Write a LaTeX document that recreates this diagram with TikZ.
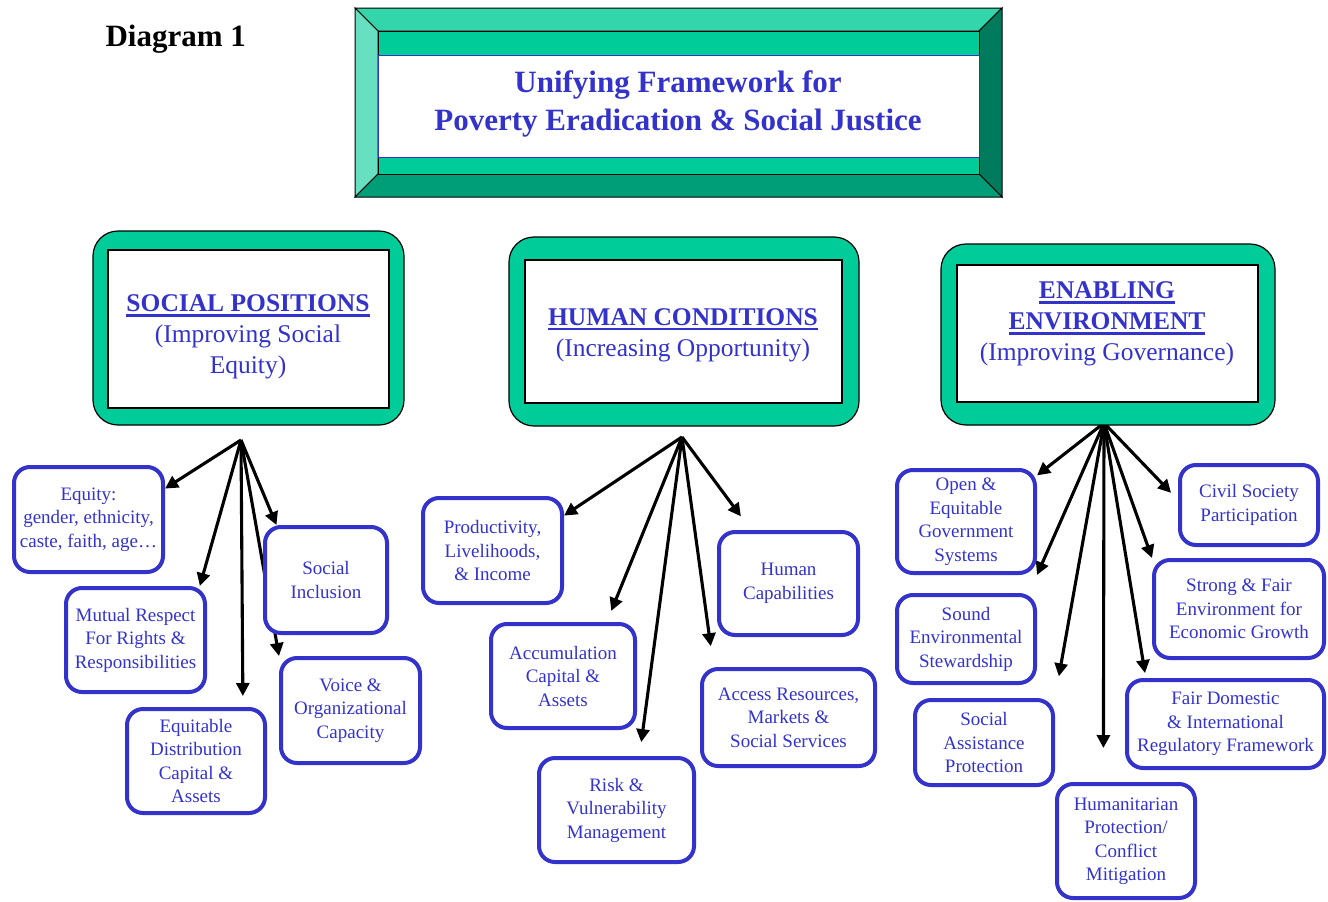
\documentclass[tikz,border=0pt]{standalone}
\usepackage{fontspec}
\setmainfont{Liberation Serif}
\usetikzlibrary{arrows.meta,backgrounds}

\definecolor{pptblue}{HTML}{3333CC}
\definecolor{pptgreen}{HTML}{00CC99}
\definecolor{beveltop}{HTML}{33D6AA}
\definecolor{bevelleft}{HTML}{66E0C0}
\definecolor{bevelright}{HTML}{007A5C}
\definecolor{bevelbottom}{HTML}{009E78}

\newcommand\titlefont{\fontsize{31}{38}\selectfont\bfseries}
\newcommand\headfont{\fontsize{25.5}{31}\selectfont}
\newcommand\leaffont{\fontsize{19}{23.5}\selectfont}
\newcommand\uhead[1]{\setbox0\hbox{\bfseries #1}\rlap{\rule[-5pt]{\wd0}{2.4pt}}\box0}

\begin{document}
\begin{tikzpicture}[x=1pt,y=-1pt]
    \tikzset{
        frame/.style={draw=black,line width=1.2pt,fill=pptgreen,rounded corners=25pt},
        pane/.style={draw=black,line width=1.2pt,fill=white},
        head/.style={text=pptblue,align=center,font=\headfont},
        leaf/.style={draw=pptblue,line width=4pt,rounded corners=16pt,fill=white,
            text=pptblue,align=center,font=\leaffont,inner sep=0pt},
        link/.style={line width=3.1pt,-{Triangle[length=13pt,width=13pt]}},
        bevel/.style={draw=black,line width=1pt}
    }
    \useasboundingbox (0,0) rectangle (1328,902);

    \node[anchor=base west,font=\titlefont] (diag) at (102,46) {Diagram 1};

    % title frame
    \filldraw[bevel,fill=beveltop] (355,8) -- (1002,8) -- (979,31) -- (378,31) -- cycle;
    \filldraw[bevel,fill=bevelleft] (355,8) -- (378,31) -- (378,174) -- (355,197) -- cycle;
    \filldraw[bevel,fill=bevelright] (1002,8) -- (1002,197) -- (979,174) -- (979,31) -- cycle;
    \filldraw[bevel,fill=bevelbottom] (355,197) -- (378,174) -- (979,174) -- (1002,197) -- cycle;
    \filldraw[bevel,fill=pptgreen] (378,31) rectangle (979,174);
    \filldraw[draw=pptblue,line width=1pt,fill=white] (378,55) rectangle (979,157);
    \node[text=pptblue,align=center,font=\titlefont] (title) at (678,104)
        {Unifying Framework for\\Poverty Eradication \& Social Justice};

    % the three pillars
    \draw[frame] (93,231) rectangle (404,425);
    \draw[pane] (108,250) rectangle (389,408);
    \node[head] (sp) at (248,337) {\uhead{SOCIAL POSITIONS}\\(Improving Social\\Equity)};

    \draw[frame] (509,237) rectangle (859,426);
    \draw[pane] (525,260) rectangle (842,403);
    \node[head] (hc) at (683,335) {\uhead{HUMAN CONDITIONS}\\(Increasing Opportunity)};

    \draw[frame] (941,244) rectangle (1275,425);
    \draw[pane] (957,265) rectangle (1258,402);
    \node[head] (ee) at (1107,324) {\uhead{ENABLING}\\\uhead{ENVIRONMENT}\\(Improving Governance)};

    \coordinate (spo) at (241,440);
    \coordinate (hco) at (682,437);
    \coordinate (eeo) at (1104,423);

    % social positions
    \node[leaf,minimum width=149pt,minimum height=105pt] (equity) at (88.5,519.5)
        {Equity:\\gender, ethnicity,\\caste, faith, age…};
    \node[leaf,minimum width=139pt,minimum height=104pt] (respect) at (135.5,640)
        {Mutual Respect\\For Rights \&\\Responsibilities};
    \node[leaf,minimum width=138pt,minimum height=104pt] (distrib) at (196,761)
        {Equitable\\Distribution\\Capital \&\\Assets};
    \node[leaf,minimum width=122pt,minimum height=106pt] (inclusion) at (326,580)
        {Social\\Inclusion};
    \node[leaf,minimum width=139pt,minimum height=105pt] (voice) at (350.5,710.5)
        {Voice \&\\Organizational\\Capacity};

    % human conditions
    \node[leaf,minimum width=139pt,minimum height=105pt] (income) at (492.5,550.5)
        {Productivity,\\Livelihoods,\\\& Income};
    \node[leaf,minimum width=144pt,minimum height=104pt] (assets) at (563,676)
        {Accumulation\\Capital \&\\Assets};
    \node[leaf,minimum width=155pt,minimum height=104pt] (risk) at (616.5,810)
        {Risk \&\\Vulnerability\\Management};
    \node[leaf,minimum width=139pt,minimum height=103pt] (capab) at (788.5,583.5)
        {Human\\Capabilities};
    \node[leaf,minimum width=173pt,minimum height=97pt] (access) at (788.5,717.5)
        {Access Resources,\\Markets \&\\Social Services};

    % enabling environment
    \node[leaf,minimum width=138pt,minimum height=103pt] (govern) at (966,521.5)
        {Open \&\\Equitable\\Government\\Systems};
    \node[leaf,minimum width=138pt,minimum height=88pt] (steward) at (966,639)
        {Sound\\Environmental\\Stewardship};
    \node[leaf,minimum width=138pt,minimum height=85pt] (assist) at (984,742.5)
        {Social\\Assistance\\Protection};
    \node[leaf,minimum width=138pt,minimum height=114pt] (humanit) at (1126,841)
        {Humanitarian\\Protection/\\Conflict\\Mitigation};
    \node[leaf,minimum width=138pt,minimum height=80pt] (civil) at (1249,505)
        {Civil Society\\Participation};
    \node[leaf,minimum width=170pt,minimum height=98pt] (growth) at (1239,609)
        {Strong \& Fair\\Environment for\\Economic Growth};
    \node[leaf,minimum width=197pt,minimum height=88pt] (regul) at (1225.5,724)
        {Fair Domestic\\\& International\\Regulatory Framework};

    \begin{scope}[on background layer]
        \draw[link] (spo) -- (equity.22);
        \draw[link] (spo) -- (respect.40);
        \draw[link,shorten >=11pt] (spo) -- (distrib.49);
        \draw[link] (spo) -- (inclusion.132);
        \draw[link] (spo) -- (voice.north west);

        \draw[link] (hco) -- (income.26);
        \draw[link,shorten >=12pt] (hco) -- (assets.51);
        \draw[link,shorten >=14pt] (hco) -- (risk.67);
        \draw[link,shorten >=21pt] (hco) -- (access.146);
        \draw[link,shorten >=17pt] (hco) -- (capab.125);

        \draw[link] (eeo) -- (govern.33);
        \draw[link] (eeo) -- (govern.south east);
        \draw[link,shorten >=22pt] (eeo) -- (assist.north east);
        \draw[link,shorten >=34pt] (eeo) -- (humanit.111);
        \draw[link,shorten >=5pt] (eeo) -- (regul.150);
        \draw[link] (eeo) -- (growth.north west);
        \draw[link,shorten >=10pt] (eeo) -- (civil.176);
    \end{scope}
\end{tikzpicture}
\end{document}
